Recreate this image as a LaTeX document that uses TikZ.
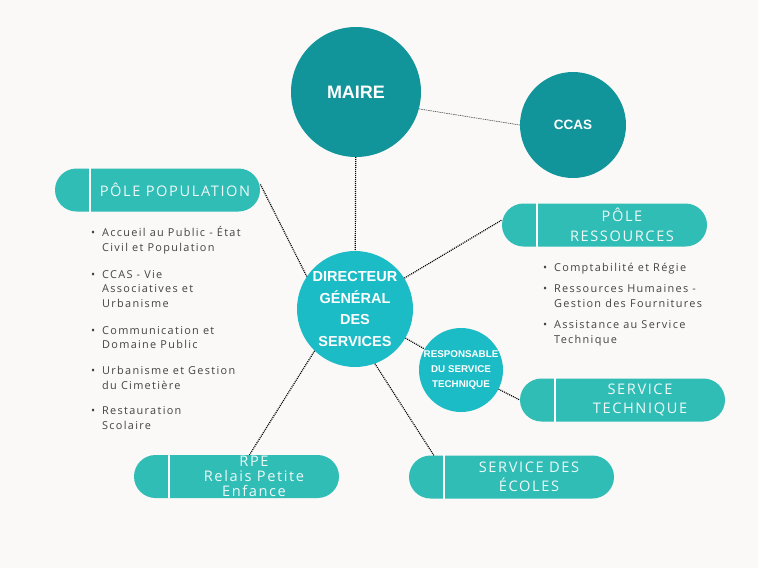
\documentclass[tikz,border=0pt]{standalone}
\usepackage{fontspec}
\setmainfont{Open Sans}
\newfontfamily\circfont{Liberation Sans}
\newfontfamily\pillfont[LetterSpace=11]{Open Sans}
\newfontfamily\listfont[LetterSpace=12]{Open Sans}
\definecolor{bgcol}{HTML}{FAF9F7}
\definecolor{darkteal}{HTML}{11949A}
\definecolor{cyanteal}{HTML}{1CBCC7}
\definecolor{pillteal}{HTML}{30BDB5}
\definecolor{pilltxt}{HTML}{EEF9F8}
\definecolor{listgray}{HTML}{444444}
\newcommand\bul{\strut\llap{\textbullet\hspace{7pt}}}

\begin{document}
\begin{tikzpicture}[x=1pt, y=-1pt,
  disc/.style={circle, inner sep=0pt, align=center, text=white, font=\circfont\bfseries},
  pill/.style={rectangle, rounded corners=21.5pt, fill=pillteal, minimum width=205pt, minimum height=43pt, inner sep=0pt},
  pilltext/.style={align=center, text=pilltxt, font=\pillfont\fontsize{14.6}{19.5}\selectfont},
  divider/.style={white, line width=1.4pt},
  listitem/.style={anchor=north west, align=left, inner sep=0pt, text=listgray, font=\listfont\fontsize{10.9}{14.8}\selectfont},
  link/.style={line width=1.2pt, dash pattern=on 1pt off 1pt},
  thinlink/.style={line width=.6pt, black!70, dash pattern=on 1.5pt off .8pt}]
\fill[bgcol] (0,0) rectangle (758,568);
\useasboundingbox (0,0) rectangle (758,568);

% circles
\node[disc, fill=darkteal, minimum size=130pt, font=\circfont\bfseries\fontsize{18}{22}\selectfont] (maire) at (356,92) {MAIRE};
\node[disc, fill=darkteal, minimum size=106pt, font=\circfont\bfseries\fontsize{13.5}{16}\selectfont] (ccas) at (573,125) {CCAS};
\node[disc, fill=cyanteal, minimum size=116pt, font=\circfont\bfseries\fontsize{14.5}{21.8}\selectfont] (dgs) at (355,309) {DIRECTEUR\\GÉNÉRAL\\DES\\SERVICES};
\node[disc, fill=cyanteal, minimum size=84pt, font=\circfont\bfseries\fontsize{9.8}{15}\selectfont] (rst) at (461,370) {RESPONSABLE\\DU SERVICE\\TECHNIQUE};

% pills
\node[pill] (ppop) at (157.5,190) {};
\draw[divider] ([xshift=35pt]ppop.north west) -- ([xshift=35pt]ppop.south west);
\node[pilltext] (ppopt) at ([xshift=17.5pt]ppop.center) {PÔLE POPULATION};

\node[pill] (pres) at (604.5,225) {};
\draw[divider] ([xshift=35pt]pres.north west) -- ([xshift=35pt]pres.south west);
\node[pilltext] (prest) at ([xshift=17.5pt]pres.center) {PÔLE\\RESSOURCES};

\node[pill] (stec) at (622.5,400) {};
\draw[divider] ([xshift=35pt]stec.north west) -- ([xshift=35pt]stec.south west);
\node[pilltext] (stect) at ([xshift=17.5pt]stec.center) {SERVICE\\TECHNIQUE};

\node[pill] (rpe) at (236.5,476.5) {};
\draw[divider] ([xshift=35pt]rpe.north west) -- ([xshift=35pt]rpe.south west);
\node[pilltext, font=\pillfont\fontsize{14.6}{15}\selectfont] (rpet) at ([xshift=17.5pt]rpe.center) {RPE\\Relais Petite\\Enfance};

\node[pill] (secol) at (511.5,477) {};
\draw[divider] ([xshift=35pt]secol.north west) -- ([xshift=35pt]secol.south west);
\node[pilltext] (secolt) at ([xshift=17.5pt]secol.center) {SERVICE DES\\ÉCOLES};

% lists
\node[listitem] (pop1) at (102,226) {\bul Accueil au Public - État\\Civil et Population};
\node[listitem] (pop2) at (102,267.5) {\bul CCAS - Vie\\Associatives et\\Urbanisme};
\node[listitem] (pop3) at (102,323.5) {\bul Communication et\\Domaine Public};
\node[listitem] (pop4) at (102,364) {\bul Urbanisme et Gestion\\du Cimetière};
\node[listitem] (pop5) at (102,404) {\bul Restauration\\Scolaire};

\node[listitem] (res1) at (554,261) {\bul Comptabilité et Régie};
\node[listitem] (res2) at (554,282) {\bul Ressources Humaines -\\Gestion des Fournitures};
\node[listitem] (res3) at (554,318) {\bul Assistance au Service\\Technique};

% links
\draw[thinlink] (maire.-15) -- (ccas.west);
\draw[link] (maire) -- (dgs);
\draw[link] (dgs.146) -- ([yshift=6pt]ppop.east);
\draw[link] (dgs.32) -- ([yshift=5pt]pres.west);
\draw[link] (dgs) -- (rst);
\draw[link] (rst) -- (stec.west);
\draw[link] (dgs.226) -- ([xshift=13pt]rpe.north);
\draw[link] (dgs.-70) -- ([xshift=25pt]secol.north west);
\end{tikzpicture}
\end{document}
